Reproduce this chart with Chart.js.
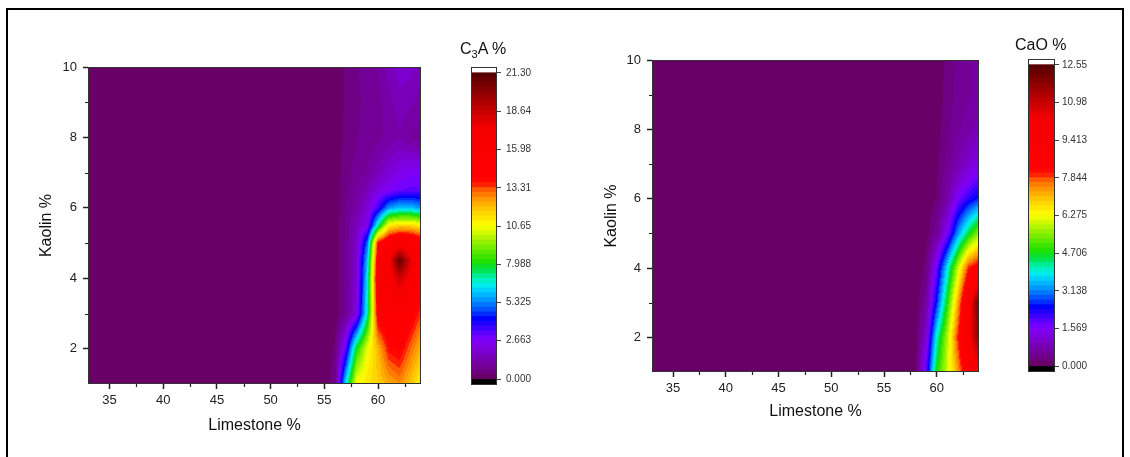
<!DOCTYPE html>
<html>
<head>
<meta charset="utf-8">
<script src="https://cdn.jsdelivr.net/npm/chart.js@4.4.1/dist/chart.umd.min.js"></script>
<style>
  html, body { margin: 0; padding: 0; background: #fff; }
  body { width: 1130px; height: 457px; position: relative; overflow: hidden;
         font-family: "Liberation Sans", Arial, sans-serif; }
  canvas { position: absolute; top: 0; }
  .frame { position: absolute; left: 6px; top: 8px; width: 1118px; height: 470px;
           border: 2px solid #000; border-bottom: none; box-sizing: border-box; }
  .cbtitle { position: absolute; font-size: 16px; line-height: 16px; color: #111; white-space: nowrap; }
  .cbtitle sub { font-size: 11px; vertical-align: -4px; line-height: 0; }
</style>
</head>
<body>
<div class="frame"></div>
<canvas id="c3aMap" width="440" height="457" style="left:0"></canvas>
<canvas id="c3aBar" width="120" height="457" style="left:440px"></canvas>
<canvas id="caoMap" width="440" height="457" style="left:560px"></canvas>
<canvas id="caoBar" width="130" height="457" style="left:1000px"></canvas>
<div class="cbtitle" style="left:460px;top:41px">C<sub>3</sub>A %</div>
<div class="cbtitle" style="left:1015px;top:37px">CaO %</div>
<script>
// ---- C3A content (%) on a limestone x kaolin grid ----
const c3aLimestone = [33, 55, 56, 57, 58, 59, 60, 61, 62, 63, 64];
const c3aKaolin = [1, 2, 3, 4, 4.5, 5, 5.5, 6, 6.5, 7, 8, 9, 10];
const c3aValues = [
  [0, 0, 0.7, 6.5, 10.8, 11.2, 11.6, 12.2, 12.6, 11.8, 10.8],
  [0, 0, 0.4, 3.2, 8.0, 10.5, 12.0, 13.8, 14.2, 13.0, 12.0],
  [0, 0, 0.1, 0.8, 2.2, 7.0, 14.5, 15.0, 15.5, 14.5, 13.3],
  [0, 0, 0.1, 0.8, 2.0, 6.5, 15.5, 16.5, 18.5, 17.0, 15.0],
  [0, 0, 0.1, 0.8, 2.0, 6.0, 15.0, 17.0, 21.0, 18.0, 15.5],
  [0, 0, 0.1, 0.75, 1.8, 5.0, 14.0, 15.5, 16.5, 16.0, 15.0],
  [0, 0, 0.1, 0.7, 1.6, 2.5, 7.0, 11.0, 11.5, 11.5, 11.0],
  [0, 0, 0.1, 0.65, 1.2, 2.0, 3.5, 5.5, 6.0, 6.0, 5.5],
  [0, 0, 0.1, 0.6, 1.0, 1.5, 2.2, 2.6, 3.0, 3.1, 3.1],
  [0, 0, 0.1, 0.55, 0.8, 1.0, 1.5, 2.0, 2.4, 2.6, 2.6],
  [0, 0, 0.05, 0.45, 0.65, 0.8, 0.9, 1.1, 1.3, 1.0, 0.8],
  [0, 0, 0.05, 0.4, 0.6, 0.75, 0.9, 1.2, 1.5, 1.4, 1.2],
  [0, 0, 0.05, 0.4, 0.65, 0.8, 1.0, 1.5, 1.9, 1.8, 1.5]
];
const c3aScaleLabels = ['0.000', '2.663', '5.325', '7.988', '10.65', '13.31', '15.98', '18.64', '21.30'];

// ---- free CaO content (%) on a limestone x kaolin grid ----
const caoLimestone = [33, 57, 58, 59, 60, 61, 62, 63, 64];
const caoKaolin = [1, 2, 3, 4, 5, 6, 6.5, 7, 8, 9, 10];
const caoValues = [
  [0, 0, 0.15, 1.9, 4.8, 6.0, 7.3, 9.0, 10.0],
  [0, 0, 0.05, 1.2, 4.0, 5.8, 8.0, 10.0, 11.8],
  [0, 0, 0, 0.6, 2.6, 4.8, 7.2, 9.8, 12.3],
  [0, 0, 0, 0.25, 1.8, 3.8, 5.9, 8.0, 8.6],
  [0, 0, 0, 0.1, 0.5, 1.6, 3.2, 4.5, 5.6],
  [0, 0, 0, 0.05, 0.2, 0.7, 1.6, 2.2, 2.6],
  [0, 0, 0, 0, 0.2, 0.6, 1.1, 1.5, 1.9],
  [0, 0, 0, 0, 0.15, 0.45, 0.8, 1.1, 1.4],
  [0, 0, 0, 0, 0.1, 0.35, 0.55, 0.7, 0.9],
  [0, 0, 0, 0, 0.05, 0.3, 0.45, 0.55, 0.65],
  [0, 0, 0, 0, 0.05, 0.25, 0.45, 0.55, 0.65]
];
const caoScaleLabels = ['0.000', '1.569', '3.138', '4.706', '6.275', '7.844', '9.413', '10.98', '12.55'];

// ---- axes ----
const limestoneRange = [33, 64];
const kaolinRange = [1, 10];
const limestoneTicks = [35, 40, 45, 50, 55, 60];
const limestoneMinor = [37.5, 42.5, 47.5, 52.5, 57.5, 62.5];
const kaolinTicks = [2, 4, 6, 8, 10];
const kaolinMinor = [3, 5, 7, 9];

// ---- styling ----
const LEVELS = 64;
const CAP = 0.0196;            // height of the over/under caps on the colour scale, as a share of its range
const colorStops = [
  [0.000, '#680068'], [0.020, '#70008a'], [0.050, '#7600a8'], [0.085, '#7c00d4'],
  [0.120, '#8000fa'], [0.145, '#5800ff'], [0.170, '#2800ff'], [0.190, '#0000ff'],
  [0.220, '#0050ff'], [0.250, '#0090ff'], [0.280, '#00c8ff'], [0.305, '#00f0e8'],
  [0.330, '#00f0a0'], [0.355, '#00e040'], [0.380, '#20e000'], [0.440, '#8cf000'],
  [0.500, '#ffff00'], [0.550, '#ffcc00'], [0.590, '#ff9400'], [0.620, '#ff5a00'],
  [0.640, '#ff1000'], [0.660, '#ff0000'], [0.820, '#f60000'], [0.880, '#c80000'],
  [0.940, '#900000'], [1.000, '#580000']
];

Chart.defaults.font.family = '"Liberation Sans", Arial, sans-serif';
Chart.defaults.color = '#222';

function hexRgb(h) { const n = parseInt(h.slice(1), 16); return [(n >> 16) & 255, (n >> 8) & 255, n & 255]; }
function rainbow(t) {
  for (let i = 0; i < colorStops.length - 1; i++) {
    const [t0, c0] = colorStops[i], [t1, c1] = colorStops[i + 1];
    if (t <= t1) {
      const f = (t - t0) / (t1 - t0), a = hexRgb(c0), b = hexRgb(c1);
      return 'rgb(' + a.map((v, k) => Math.round(v + (b[k] - v) * f)).join(',') + ')';
    }
  }
  return colorStops[colorStops.length - 1][1];
}
const levelColors = Array.from({ length: LEVELS }, (_, i) => rainbow(i / (LEVELS - 1)));

function bracket(arr, v) { let i = 0; while (i < arr.length - 2 && v > arr[i + 1]) i++; return i; }
function sample(field, lx, ky) {
  const { xs, ys, z } = field;
  const i = bracket(xs, lx), j = bracket(ys, ky);
  const tx = Math.min(1, Math.max(0, (lx - xs[i]) / (xs[i + 1] - xs[i])));
  const ty = Math.min(1, Math.max(0, (ky - ys[j]) / (ys[j + 1] - ys[j])));
  const lo = z[j][i] * (1 - tx) + z[j][i + 1] * tx;
  const hi = z[j + 1][i] * (1 - tx) + z[j + 1][i + 1] * tx;
  return lo * (1 - ty) + hi * ty;
}

// Filled contour bands, evaluated pixel by pixel through the chart's scales
function contourPlugin(field) {
  return {
    id: 'contourFill',
    beforeDatasetsDraw(chart) {
      const { ctx, chartArea: a, scales: { x, y } } = chart;
      const step = field.max / LEVELS;
      ctx.save();
      ctx.beginPath(); ctx.rect(a.left, a.top, a.width, a.height); ctx.clip();
      const x0 = Math.floor(a.left), x1 = Math.ceil(a.right);
      for (let py = Math.floor(a.top); py < Math.ceil(a.bottom); py++) {
        const k = y.getValueForPixel(py + 0.5);
        let start = x0, cur = null;
        for (let px = x0; px <= x1; px++) {
          let col = null;
          if (px < x1) {
            const v = sample(field, x.getValueForPixel(px + 0.5), k);
            col = v < 0 ? '#000' : v >= field.max ? '#fff' : levelColors[Math.min(LEVELS - 1, Math.floor(v / step))];
          }
          if (col !== cur) {
            if (cur) { ctx.fillStyle = cur; ctx.fillRect(start, py, px - start, 1); }
            cur = col; start = px;
          }
        }
      }
      ctx.restore();
    }
  };
}

// Box around the plotting area plus short minor ticks
function framePlugin(xMinor, yMinor) {
  return {
    id: 'axisFrame',
    afterDraw(chart) {
      const { ctx, chartArea: a, scales } = chart;
      ctx.save();
      ctx.strokeStyle = '#333'; ctx.lineWidth = 1;
      ctx.strokeRect(a.left + 0.5, a.top + 0.5, a.width - 1, a.height - 1);
      ctx.strokeStyle = '#222'; ctx.lineWidth = 1.2;
      ctx.beginPath();
      xMinor.forEach(v => {
        const px = Math.round(scales.x.getPixelForValue(v)) + 0.5;
        ctx.moveTo(px, a.bottom); ctx.lineTo(px, a.bottom + 3);
      });
      yMinor.forEach(v => {
        const py = Math.round(scales.y.getPixelForValue(v)) + 0.5;
        ctx.moveTo(a.left, py); ctx.lineTo(a.left - 3, py);
      });
      ctx.stroke();
      ctx.restore();
    }
  };
}

function gridPoints(xs, ys) {
  const pts = [];
  ys.forEach(k => xs.forEach(l => pts.push({ x: l, y: k })));
  return pts;
}

function mapChart(id, field, lay) {
  new Chart(document.getElementById(id), {
    type: 'scatter',
    data: { datasets: [{ data: gridPoints(field.xs, field.ys), pointRadius: 0, showLine: false }] },
    options: {
      responsive: false, animation: false, devicePixelRatio: 1, events: [],
      layout: { padding: { left: 0, top: lay.top, right: lay.right, bottom: 0 } },
      plugins: { legend: { display: false }, tooltip: { enabled: false } },
      scales: {
        x: {
          type: 'linear', position: 'bottom', min: limestoneRange[0], max: limestoneRange[1],
          afterBuildTicks: s => { s.ticks = limestoneTicks.map(v => ({ value: v })); },
          afterFit: s => { s.height = lay.xHeight; },
          ticks: { font: { size: lay.tickFont }, color: '#222', padding: 4, maxRotation: 0, autoSkip: false },
          grid: { drawOnChartArea: false, tickLength: 5, color: '#222', tickWidth: 1.5 },
          border: { display: false },
          title: { display: true, text: 'Limestone %', color: '#111', font: { size: 16 },
                   padding: { top: 0, bottom: lay.xTitlePad } }
        },
        y: {
          type: 'linear', position: 'left', min: kaolinRange[0], max: kaolinRange[1],
          afterBuildTicks: s => { s.ticks = kaolinTicks.map(v => ({ value: v })); },
          afterFit: s => { s.width = lay.yWidth; },
          ticks: { font: { size: lay.tickFont }, color: '#222', padding: 6 },
          grid: { drawOnChartArea: false, tickLength: 5, color: '#222', tickWidth: 1.5 },
          border: { display: false },
          title: { display: true, text: 'Kaolin %', color: '#111', font: { size: 16 },
                   padding: { top: lay.yTitlePad, bottom: 0 } }
        }
      }
    },
    plugins: [contourPlugin(field), framePlugin(limestoneMinor, kaolinMinor)]
  });
}

function scaleChart(id, labels, lay) {
  const ticks = labels.map(Number);
  const max = ticks[ticks.length - 1];
  const step = max / LEVELS;
  const cap = max * CAP;
  const band = (lo, hi, color) => ({
    data: [[lo, hi]], backgroundColor: color, borderWidth: 0, grouped: false,
    barPercentage: 1, categoryPercentage: 1, inflateAmount: 0.6
  });
  const datasets = levelColors.map((c, i) => band(i * step, (i + 1) * step, c));
  datasets.push(band(max, max + cap, '#ffffff'));
  datasets.push(band(-cap, 0, '#000000'));
  new Chart(document.getElementById(id), {
    type: 'bar',
    data: { labels: [''], datasets },
    options: {
      responsive: false, animation: false, devicePixelRatio: 1, events: [],
      layout: { padding: { left: lay.left, top: lay.top, right: 0, bottom: lay.bottom } },
      plugins: { legend: { display: false }, tooltip: { enabled: false } },
      scales: {
        x: { display: false },
        y: {
          type: 'linear', position: 'right', min: -cap, max: max + cap,
          afterBuildTicks: s => { s.ticks = ticks.map(v => ({ value: v })); },
          afterFit: s => { s.width = lay.width; },
          ticks: { font: { size: lay.font }, color: '#333', padding: lay.pad, callback: (v, i) => labels[i] },
          grid: { drawOnChartArea: false, tickLength: 4, color: '#444', tickWidth: 1 },
          border: { display: false }
        }
      }
    },
    plugins: [framePlugin([], [])]
  });
}

mapChart('c3aMap', { xs: c3aLimestone, ys: c3aKaolin, z: c3aValues, max: Number(c3aScaleLabels[8]) },
  { top: 67, right: 19, xHeight: 73, yWidth: 88, tickFont: 13, xTitlePad: 21.4, yTitlePad: 36.8 });
scaleChart('c3aBar', c3aScaleLabels, { left: 31, top: 67, bottom: 72, width: 63, font: 10, pad: 5 });

mapChart('caoMap', { xs: caoLimestone, ys: caoKaolin, z: caoValues, max: Number(caoScaleLabels[8]) },
  { top: 60, right: 21, xHeight: 85, yWidth: 92, tickFont: 13, xTitlePad: 35.7, yTitlePad: 42.4 });
scaleChart('caoBar', caoScaleLabels, { left: 28, top: 59, bottom: 85, width: 75, font: 10, pad: 3 });
</script>
</body>
</html>
